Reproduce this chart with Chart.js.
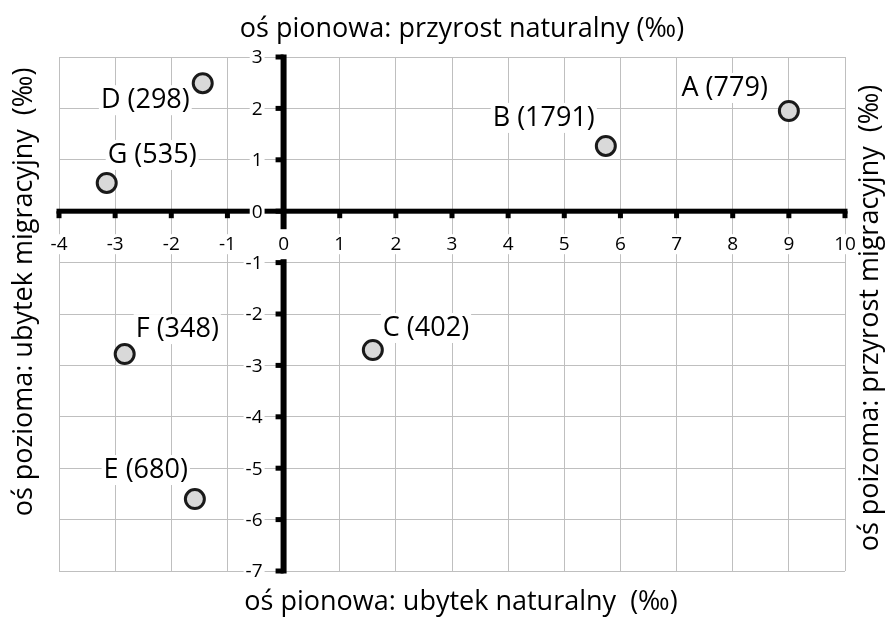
<!DOCTYPE html>
<html><head><meta charset="utf-8">
<script src="https://cdn.jsdelivr.net/npm/chart.js@4.4.1/dist/chart.umd.min.js"></script>
<style>html,body{margin:0;padding:0;background:#fff;overflow:hidden}</style>
</head><body>
<canvas id="c" width="887" height="617"></canvas>
<script>
// ---- data ----
const regions = ['A','B','C','D','E','F','G'];
const population = [779, 1791, 402, 298, 680, 348, 535];
const naturalGrowth = [9.0, 5.74, 1.59, -1.44, -1.58, -2.83, -3.15];
const migrationBalance = [1.95, 1.27, -2.70, 2.49, -5.60, -2.78, 0.55];
const xTickLabels = [-4,-3,-2,-1,0,1,2,3,4,5,6,7,8,9,10];
const yTickLabels = [3,2,1,0,-1,-2,-3,-4,-5,-6,-7];
const titleTop = 'oś pionowa: przyrost naturalny (‰)';
const titleBottom = 'oś pionowa: ubytek naturalny  (‰)';
const titleLeft = 'oś pozioma: ubytek migracyjny  (‰)';
const titleRight = 'oś poizoma: przyrost migracyjny  (‰)';

// ---- label placement (style) ----
const labelPlacement = {
  A:{align:'right',dx:-21,dy:-23}, B:{align:'right',dx:-11,dy:-28},
  C:{align:'left',dx:10,dy:-22},   D:{align:'right',dx:-13,dy:17},
  E:{align:'right',dx:-7,dy:-29},  F:{align:'left',dx:11,dy:-25},
  G:{align:'left',dx:1,dy:-28}
};
const FONT = '"Open Sans", "Noto Sans", sans-serif';

function boxText(ctx, text, x, y, align, padX, boxH){
  const w = ctx.measureText(text).width;
  let left = align==='right' ? x - w : (align==='center' ? x - w/2 : x);
  ctx.fillStyle = '#fff';
  ctx.fillRect(left - padX, y - boxH/2, w + 2*padX, boxH);
  ctx.fillStyle = '#000';
  ctx.textAlign = align; ctx.textBaseline = 'middle';
  ctx.fillText(text, x, y);
}

const axesPlugin = {
  id:'centerAxes',
  beforeDatasetsDraw(chart){
    const {ctx, scales:{x, y}} = chart;
    const x0 = x.getPixelForValue(0), y0 = y.getPixelForValue(0);
    ctx.save();
    ctx.fillStyle = '#000';
    ctx.fillRect(x.left - 2.5, y0 - 2.5, x.right - x.left + 5, 5);
    xTickLabels.forEach(v => { const px = x.getPixelForValue(v); ctx.fillRect(px - 2.5, y0, 5, 7); });
    ctx.fillRect(x0 - 3, y.top - 2.5, 6, y.bottom - y.top + 5);
    yTickLabels.forEach(v => { const py = y.getPixelForValue(v); ctx.fillRect(x0 - 8, py - 2.5, 8, 5); });
    ctx.font = '19px ' + FONT;
    xTickLabels.forEach(v => {
      const px = x.getPixelForValue(v);
      boxText(ctx, String(v), px, y0 + 33, 'center', 2, v === 0 ? 30 : 20);
    });
    yTickLabels.forEach(v => {
      const py = y.getPixelForValue(v);
      boxText(ctx, String(v), x0 - 21, py + 1, 'right', 2, 20);
    });
    ctx.restore();
  },
  afterDatasetsDraw(chart){
    const {ctx} = chart;
    const meta = chart.getDatasetMeta(0);
    ctx.save();
    ctx.font = '27px ' + FONT;
    meta.data.forEach((pt, i) => {
      const name = regions[i];
      const p = labelPlacement[name];
      boxText(ctx, name + ' (' + population[i] + ')', pt.x + p.dx, pt.y + p.dy, p.align, 2, 30);
    });
    ctx.restore();
  },
  afterDraw(chart){
    const {ctx} = chart;
    ctx.save();
    ctx.fillStyle = '#000';
    ctx.font = '27px ' + FONT;
    ctx.textAlign = 'center'; ctx.textBaseline = 'middle';
    ctx.fillText(titleTop, 462, 29);
    ctx.fillText(titleBottom, 461, 602);
    ctx.save(); ctx.translate(24, 292); ctx.rotate(-Math.PI/2); ctx.fillText(titleLeft, 0, 0); ctx.restore();
    ctx.save(); ctx.translate(870, 318); ctx.rotate(-Math.PI/2); ctx.fillText(titleRight, 0, 0); ctx.restore();
    ctx.restore();
  }
};

new Chart(document.getElementById('c'), {
  type:'scatter',
  data:{ datasets:[{
    data: naturalGrowth.map((v, i) => ({x: v, y: migrationBalance[i]})),
    pointRadius: 9.5, pointHoverRadius: 9.5,
    borderWidth: 3, borderColor: '#1a1a1a', backgroundColor: '#d9d9d9'
  }]},
  options:{
    responsive:false, animation:false, devicePixelRatio:1,
    layout:{ padding:{ left:59, right:42, top:57, bottom:46 } },
    plugins:{ legend:{display:false}, tooltip:{enabled:false} },
    scales:{
      x:{ type:'linear', min:-4, max:10,
          ticks:{ display:false, stepSize:1 },
          grid:{ color:'#bfbfbf', lineWidth:1, drawTicks:false },
          border:{ display:false } },
      y:{ type:'linear', min:-7, max:3,
          ticks:{ display:false, stepSize:1 },
          grid:{ color:'#bfbfbf', lineWidth:1, drawTicks:false },
          border:{ display:false } }
    }
  },
  plugins:[axesPlugin]
});
</script>
</body></html>
